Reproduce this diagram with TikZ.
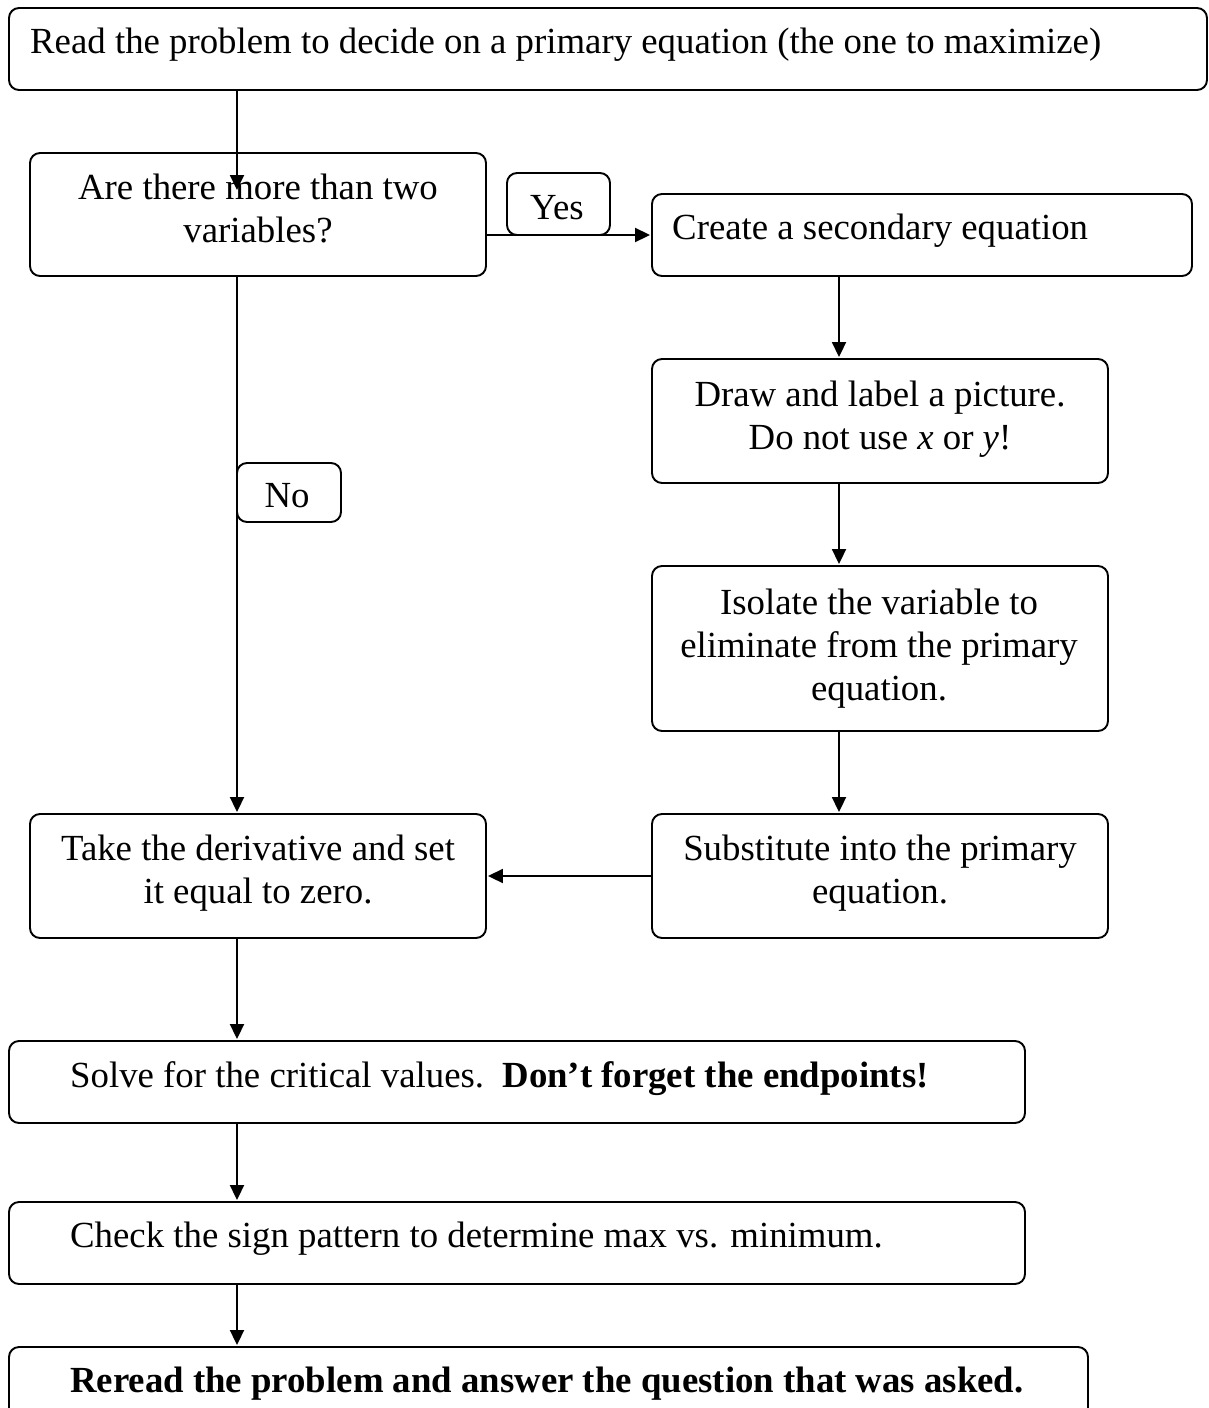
\documentclass[tikz,border=0pt]{standalone}
\usepackage{fontspec}
\setmainfont{Liberation Serif}
\usetikzlibrary{arrows.meta}
\begin{document}
\begin{tikzpicture}[x=1pt,y=-1pt,
  box/.style={draw, line width=1.9pt, rounded corners=10pt, inner sep=0pt},
  txt/.style={inner sep=0pt, font=\fontsize{36.8}{43}\selectfont},
  ctxt/.style={txt, align=center, anchor=base},
  ltxt/.style={txt, anchor=base west},
  arr/.style={line width=1.9pt, -{Triangle[length=15pt,width=14pt]}, shorten >=1pt}]
\useasboundingbox (0,0) rectangle (1209,1408);
\clip (0,0) rectangle (1209,1408);
\fill[white] (0,0) rectangle (1209,1408);
% boxes
\node[box, minimum width=1198pt, minimum height=82pt] (b1) at (608,49) {};
\node[box, minimum width=456pt, minimum height=123pt] (b2) at (258,214.5) {};
\node[box, minimum width=103pt, minimum height=62pt] (yes) at (558.5,204) {};
\node[box, minimum width=540pt, minimum height=82pt] (b3) at (922,235) {};
\node[box, minimum width=456pt, minimum height=124pt] (b4) at (880,421) {};
\node[box, minimum width=104pt, minimum height=59pt] (no) at (289,492.5) {};
\node[box, minimum width=456pt, minimum height=165pt] (b5) at (880,648.5) {};
\node[box, minimum width=456pt, minimum height=124pt] (b6) at (258,876) {};
\node[box, minimum width=456pt, minimum height=124pt] (b7) at (880,876) {};
\node[box, minimum width=1016pt, minimum height=82pt] (b8) at (517,1082) {};
\node[box, minimum width=1016pt, minimum height=82pt] (b9) at (517,1243) {};
\node[box, minimum width=1079pt, minimum height=82pt] (b10) at (548.5,1388) {};
% texts
\node[ltxt] (t1) at (30,53) {Read the problem to decide on a primary equation (the one to maximize)};
\node[ctxt] (t2) at (258,242) {Are there more than two\\variables?};
\node[ctxt] (tyes) at (557,219) {Yes};
\node[ltxt] (t3) at (672,239) {Create a secondary equation};
\node[ctxt] (t4) at (880,449) {Draw and label a picture.\\Do not use \textit{x} or \textit{y}!};
\node[ctxt] (tno) at (287,507) {No};
\node[ctxt] (t5) at (879,700) {Isolate the variable to\\eliminate from the primary\\equation.};
\node[ctxt] (t6) at (258,903) {Take the derivative and set\\it equal to zero.};
\node[ctxt] (t7) at (880,903) {Substitute into the primary\\equation.};
\node[ltxt] (t8) at (70,1087) {Solve for the critical values.\ \ \textbf{Don’t forget the endpoints!}};
\node[ltxt] (t9) at (70,1247) {Check the sign pattern to determine max vs. minimum.};
\node[ltxt] (t10) at (70,1392) {\textbf{Reread the problem and answer the question that was asked.}};
% connectors
\coordinate (colL) at (237,0);
\coordinate (colR) at (839,0);
\coordinate (a1end) at (237,191);
\draw[arr] (b1.south -| colL) -- (a1end);
\draw[arr] (b2.east |- b3.west) -- (b3.west);
\draw[arr] (b2.south -| colL) -- (b6.north -| colL);
\draw[arr] (b3.south -| colR) -- (b4.north -| colR);
\draw[arr] (b4.south -| colR) -- (b5.north -| colR);
\draw[arr] (b5.south -| colR) -- (b7.north -| colR);
\draw[arr] (b7.west) -- (b6.east);
\draw[arr] (b6.south -| colL) -- (b8.north -| colL);
\draw[arr] (b8.south -| colL) -- (b9.north -| colL);
\draw[arr] (b9.south -| colL) -- (b10.north -| colL);
\end{tikzpicture}
\end{document}
